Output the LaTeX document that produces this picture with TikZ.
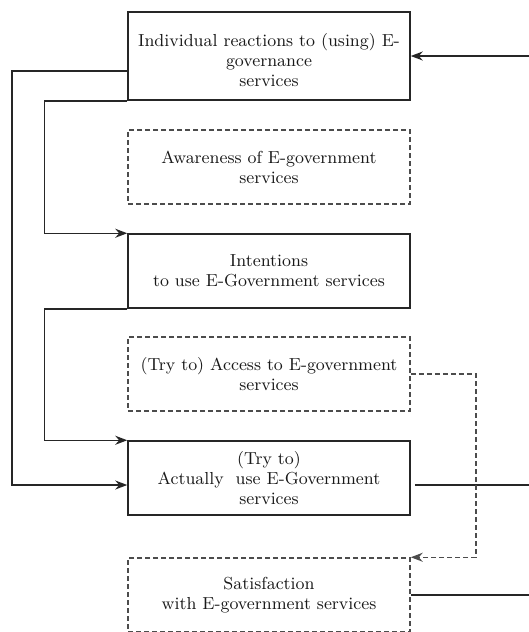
\documentclass[tikz,border=0pt]{standalone}
\usepackage{tikz}
\usetikzlibrary{arrows.meta}

\begin{document}
\begin{tikzpicture}[x=0.5pt, y=-0.5pt, >={Stealth[length=6pt, width=4.5pt]},
  box/.style={draw=black!85, line width=0.75pt, minimum width=141pt,
    minimum height=37pt, inner sep=0pt, align=center,
    font=\fontsize{8.7}{10}\selectfont, text=black!90},
  dbox/.style={box, draw=black!70, dash pattern=on 2.5pt off 1.5pt},
  link/.style={draw=black!85, line width=0.75pt},
  dlink/.style={draw=black!70, line width=0.75pt, dash pattern=on 2.5pt off 1.5pt}]
  \useasboundingbox (0,0) rectangle (529,632);

  \node[box, minimum height=44pt] (react) at (269,56)
    {\rule{0pt}{10.5pt}Individual reactions to (using) E-\\governance\\services};
  \node[dbox] (aware) at (269,167) {Awareness of E-government\\services};
  \node[box] (intent) at (269,271) {Intentions\\to use E-Government services};
  \node[dbox] (access) at (269,374) {(Try to) Access to E-government\\services};
  \node[box] (use) at (269,478) {(Try to)\\Actually~ use E-Government\\services};
  \node[dbox] (satis) at (269,595) {Satisfaction\\with E-government services};

  \coordinate (inR) at (529,56);
  \coordinate (outA) at (529,485);
  \coordinate (outB) at (529,595);

  \draw[link, ->] (inR) -- (react.east);
  \draw[link, ->] (react.west |- 0,71) -- (12,71) |- ([yshift=-3.5pt]use.west);
  \draw[link, ->] (react.south west) -- ++(-83,0) |- (intent.north west);
  \draw[link, ->] (intent.south west) -- ++(-83,0) |- (use.north west);
  \draw[link] ([xshift=2pt, yshift=-3.5pt]use.east) -- (outA);
  \draw[link] (satis.east) -- (outB);
  \draw[dlink, ->] (access.east) -- ++(65,0) |- (satis.north east);
\end{tikzpicture}
\end{document}
